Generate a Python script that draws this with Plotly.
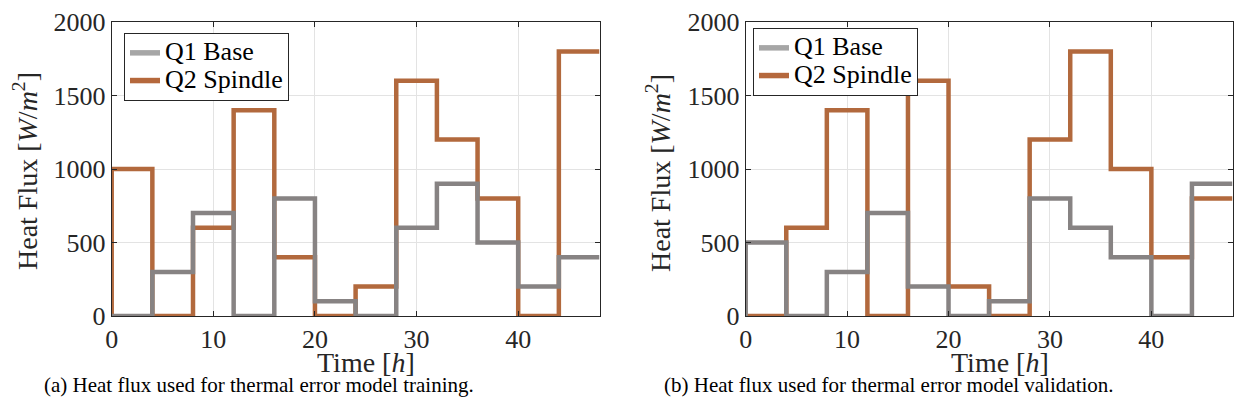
import plotly.graph_objects as go

# ---- data ----
seg_start = [0, 4, 8, 12, 16, 20, 24, 28, 32, 36, 40, 44]
t_end = 48

train_q1 = [0, 300, 700, 0, 800, 100, 0, 600, 900, 500, 200, 400]
train_q2 = [1000, 0, 600, 1400, 400, 0, 200, 1600, 1200, 800, 0, 1800]

valid_q1 = [500, 0, 300, 700, 200, 0, 100, 800, 600, 400, 0, 900]
valid_q2 = [0, 600, 1400, 0, 1600, 200, 0, 1200, 1800, 1000, 400, 800]

x_ticks = [0, 10, 20, 30, 40]
y_ticks = [0, 500, 1000, 1500, 2000]

series_names = ["Q1 Base", "Q2 Spindle"]
captions = ["(a) Heat flux used for thermal error model training.",
            "(b) Heat flux used for thermal error model validation."]

GRAY = "#878383"
ORANGE = "#B2693D"
GRAY_LEG = "#A6A6A6"
ORANGE_LEG = "#B5683C"
FONT = "Liberation Serif, Times New Roman, serif"
LW = 4.5
FS = 26
TITLE_FS = 28


def step_xy(vals):
    xs = [0] + seg_start + [t_end]
    ys = [0] + vals + [vals[-1]]
    return xs, ys


def leg_name(s):
    return ('<span style="font-family:\'Liberation Serif\', serif;font-size:26px">'
            + s + '</span>')


fig = go.Figure()

panels = [(train_q1, train_q2, "x", "y", "legend"),
          (valid_q1, valid_q2, "x2", "y2", "legend2")]

for q1, q2, xa, ya, lg in panels:
    x2, y2 = step_xy(q2)
    fig.add_trace(go.Scatter(x=x2, y=y2, mode="lines", line_shape="hv",
                             line=dict(color=ORANGE, width=LW),
                             xaxis=xa, yaxis=ya, showlegend=False))
    x1, y1 = step_xy(q1)
    fig.add_trace(go.Scatter(x=x1, y=y1, mode="lines", line_shape="hv",
                             line=dict(color=GRAY, width=LW),
                             xaxis=xa, yaxis=ya, showlegend=False))
    # legend entries
    fig.add_trace(go.Scatter(x=[None], y=[None], mode="lines",
                             name=leg_name(series_names[0]),
                             line=dict(color=GRAY_LEG, width=LW + 1),
                             xaxis=xa, yaxis=ya, legend=lg))
    fig.add_trace(go.Scatter(x=[None], y=[None], mode="lines",
                             name=leg_name(series_names[1]),
                             line=dict(color=ORANGE_LEG, width=LW + 1),
                             xaxis=xa, yaxis=ya, legend=lg))

W, H = 1239, 418
ydom = [1 - 316 / H, 1 - 22 / H]

axis_common = dict(
    showline=True, linecolor="#262626", linewidth=1, mirror="ticks",
    ticks="inside", ticklen=5, tickcolor="#262626", automargin=False,
    showgrid=True, gridcolor="#E3E3E3", gridwidth=1, zeroline=False,
    tickfont=dict(family=FONT, size=FS, color="#262626"),
)

xtitle = "Time [<i>h</i>]"
ytitle = "Heat Flux [<i>W</i>/<i>m</i><sup>2</sup>]"

leg_common = dict(xanchor="left", yanchor="top",
                  bgcolor="white", bordercolor="#262626", borderwidth=1,
                  font=dict(family=FONT, size=19, color="#000000"),
                  tracegroupgap=0, itemwidth=30)


def ann(text, x, y, size, angle=0, color="#262626"):
    return dict(text=text, x=x / W, y=1 - y / H, xref="paper", yref="paper",
                xanchor="center", yanchor="middle", showarrow=False,
                textangle=angle, font=dict(family=FONT, size=size, color=color))


fig.update_layout(
    width=W, height=H,
    margin=dict(l=0, r=0, t=0, b=0),
    font=dict(family=FONT, size=FS, color="#262626"),
    paper_bgcolor="white", plot_bgcolor="white",
    xaxis=dict(domain=[111.7 / W, 599.5 / W], range=[0, 48], tickvals=x_ticks,
               anchor="y", **axis_common),
    yaxis=dict(domain=ydom, range=[0, 2000], tickvals=y_ticks,
               anchor="x", **axis_common),
    xaxis2=dict(domain=[745.7 / W, 1232.5 / W], range=[0, 48], tickvals=x_ticks,
                anchor="y2", **axis_common),
    yaxis2=dict(domain=ydom, range=[0, 2000], tickvals=y_ticks,
                anchor="x2", **axis_common),
    legend=dict(x=124 / W, y=1 - 33 / H, **leg_common),
    legend2=dict(x=753 / W, y=1 - 28 / H, **leg_common),
    annotations=[
        ann(xtitle, 366, 362, TITLE_FS),
        ann(xtitle, 1000, 362, TITLE_FS),
        ann(ytitle, 25, 171, TITLE_FS, angle=-90),
        ann(ytitle, 658, 173, TITLE_FS, angle=-90),
        ann(captions[0], 259, 385, 21, color="#000000"),
        ann(captions[1], 889, 385, 21, color="#000000"),
    ],
)

fig.write_html("out.html")
